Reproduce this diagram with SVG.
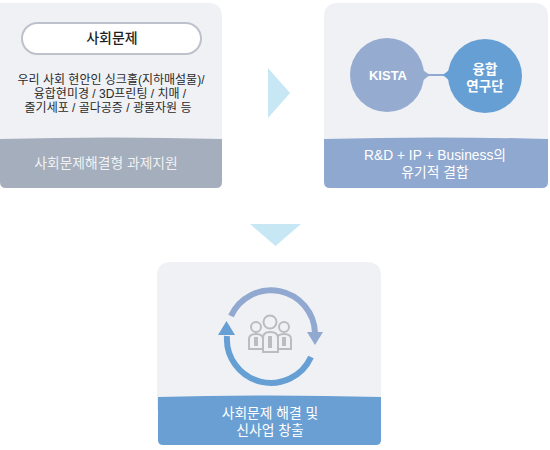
<svg xmlns="http://www.w3.org/2000/svg" width="550" height="450" viewBox="0 0 550 450">
<style>
text{font-family:"Liberation Sans","Noto Sans CJK KR",sans-serif;text-anchor:middle}
.card{fill:#eff1f5}
.w{fill:#fff;font-size:13.800px}
.d{fill:#2a2a2a;font-size:12px}
.p{fill:none;stroke:#b9bcc1;stroke-width:2}
.p2{fill:#eff1f5;stroke:#b9bcc1;stroke-width:2}
</style>
<rect width="550" height="450" fill="#fff"/>
<g id="node-problem">
<path class="card" d="M0 3H208Q222 3 222 17V150H0Z"/>
<path d="M0 139Q111 136 222 139V182Q222 188 216 188H6Q0 188 0 182Z" fill="#a5aebd"/>
<rect x="22" y="23" width="179" height="31" rx="15.500" fill="#fff" stroke="#bcc1cb" stroke-width="2"/>
<text x="112" y="43" font-size="14" font-weight="500" fill="#1f1f1f">사회문제</text>
<text class="d" x="111" y="84">우리 사회 현안인 싱크홀(지하매설물)/</text>
<text class="d" x="110" y="98">융합현미경 / 3D프린팅 / 치매 /</text>
<text class="d" x="108" y="112">줄기세포 / 골다공증 / 광물자원 등</text>
<text class="w" x="106" y="168" fill-opacity=".85">사회문제해결형 과제지원</text>
</g>
<g id="node-fusion">
<path class="card" d="M338 3H534Q548 3 548 17V150H324V17Q324 3 338 3Z"/>
<path d="M324 139Q436 136 548 139V182Q548 188 542 188H330Q324 188 324 182Z" fill="#8fa8cf"/>
<path d="M421 75H443" stroke="#8fa9d0" stroke-width="2" fill="none"/>
<path d="M416 62Q423 72 431 75Q423 78 416 90Z" fill="#96abd0"/>
<path d="M455 62Q449 72 442 75Q449 78 455 90Z" fill="#669fd4"/>
<circle cx="387" cy="75" r="37" fill="#96abd0"/>
<circle cx="485" cy="76" r="37" fill="#669fd4"/>
<text x="388" y="80" font-size="13" font-weight="700" fill="#fff">KISTA</text>
<text x="485" y="74" font-size="13.500" font-weight="700" fill="#fff">융합</text>
<text x="485" y="91" font-size="13.500" font-weight="700" fill="#fff">연구단</text>
<text class="w" x="435" y="160">R&amp;D + IP + Business의</text>
<text class="w" x="435" y="177">유기적 결합</text>
</g>
<g id="node-result">
<path class="card" d="M171 262H367Q381 262 381 276V410H157V276Q157 262 171 262Z"/>
<path d="M158 397Q270 394 381 397V440Q381 445 376 445H163Q158 445 158 440Z" fill="#699fd3"/>
<g id="people">
<circle class="p" cx="256" cy="327" r="5"/>
<circle class="p" cx="284" cy="327" r="5"/>
<path class="p2" d="M249 349V339Q249 334 256 334Q263 334 263 339V349Z"/>
<path class="p2" d="M277 349V339Q277 334 284 334Q291 334 291 339V349Z"/>
<path class="p" d="M255 337V345H257V337M283 337V345H285V337" stroke-width="1.400"/>
<circle class="p2" cx="270" cy="322" r="6.500"/>
<path class="p2" d="M263 352V338Q263 332 270 332Q278 332 278 338V352Z"/>
<path class="p" d="M269 336V347H271V336" stroke-width="1.400"/>
</g>
<path d="M231 316A44 44 0 0 1 315 333" fill="none" stroke="#91a9d0" stroke-width="6"/>
<path d="M307 332H323L315 345Z" fill="#91a9d0"/>
<path d="M311 357A44 44 0 0 1 227 336" fill="none" stroke="#669fd4" stroke-width="6"/>
<path d="M218 335H235L226.500 321Z" fill="#669fd4"/>
<text class="w" x="270" y="418">사회문제 해결 및</text>
<text class="w" x="270" y="435">신사업 창출</text>
</g>
<g id="connectors">
<path d="M268 68L290 93L268 118Z" fill="#c8e7f5"/>
<path d="M250 224H301L275.500 246Z" fill="#c8e7f5"/>
</g>
</svg>
